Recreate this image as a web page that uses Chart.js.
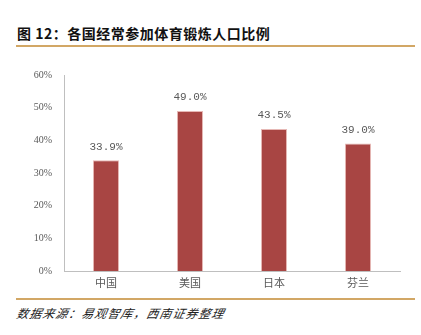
<!DOCTYPE html>
<html>
<head>
<meta charset="utf-8">
<script src="https://cdn.jsdelivr.net/npm/chart.js@4"></script>
<style>
  body { margin: 0; width: 421px; height: 335px; background: #fff; position: relative; overflow: hidden; }
  #title { position: absolute; left: 17px; top: 23px; font: bold 14px "Noto Sans CJK SC", sans-serif; color: #111; letter-spacing: 0.5px; }
  .rule { position: absolute; left: 16px; width: 399px; height: 2px; background: #D2A765; }
  #source { position: absolute; left: 17px; top: 304px; font: italic 12px "Noto Sans CJK SC", serif; color: #222; transform: skewX(-12deg); letter-spacing: 1px; }
  #wrap { position: absolute; left: 0; top: 55px; width: 421px; height: 240px; }
</style>
</head>
<body>
<div id="title">图 12：各国经常参加体育锻炼人口比例</div>
<div class="rule" style="top:45px"></div>
<div id="wrap"><canvas id="myChart"></canvas></div>
<div class="rule" style="top:298px"></div>
<div id="source">数据来源：易观智库，西南证券整理</div>
<script>
const countries = ['中国', '美国', '日本', '芬兰'];
const shares = [33.9, 49.0, 43.5, 39.0];
const yTicks = [0, 10, 20, 30, 40, 50, 60];

// value labels above each bar
const barLabels = {
  id: 'barLabels',
  afterDatasetsDraw(chart) {
    const ctx = chart.ctx;
    ctx.save();
    ctx.font = '11px "Liberation Mono", "DejaVu Sans Mono", monospace';
    ctx.fillStyle = '#595959';
    ctx.textAlign = 'center';
    ctx.textBaseline = 'bottom';
    chart.getDatasetMeta(0).data.forEach((bar, i) => {
      ctx.fillText(shares[i].toFixed(1) + '%', bar.x, bar.y - 8);
    });
    ctx.restore();
  }
};

const ctx = document.getElementById('myChart').getContext('2d');
new Chart(ctx, {
  type: 'bar',
  data: {
    labels: countries,
    datasets: [{
      data: shares,
      backgroundColor: '#A84543',
      borderColor: '#E6B8B5',
      borderWidth: 1,
      categoryPercentage: 1,
      barPercentage: 0.31
    }]
  },
  options: {
    responsive: true,
    maintainAspectRatio: false,
    animation: false,
    layout: { padding: { top: 20, right: 21, left: 0, bottom: 0 } },
    plugins: { legend: { display: false }, tooltip: { enabled: false } },
    scales: {
      x: {
        grid: { display: false, drawTicks: false },
        border: { color: '#BFBFBF', width: 1 },
        ticks: { color: '#595959', font: { size: 11, family: '"Noto Sans CJK SC", sans-serif' }, padding: 5 },
        afterFit(scale) { scale.height = 24; }
      },
      y: {
        min: 0,
        max: 60,
        afterBuildTicks(scale) { scale.ticks = yTicks.map(v => ({ value: v })); },
        grid: { display: false },
        border: { color: '#BFBFBF', width: 1 },
        ticks: {
          color: '#595959',
          font: { size: 10, family: '"Liberation Serif", serif' },
          padding: 4,
          callback: v => v + '%'
        },
        afterFit(scale) { scale.width = 64; }
      }
    }
  },
  plugins: [barLabels]
});
</script>
</body>
</html>
